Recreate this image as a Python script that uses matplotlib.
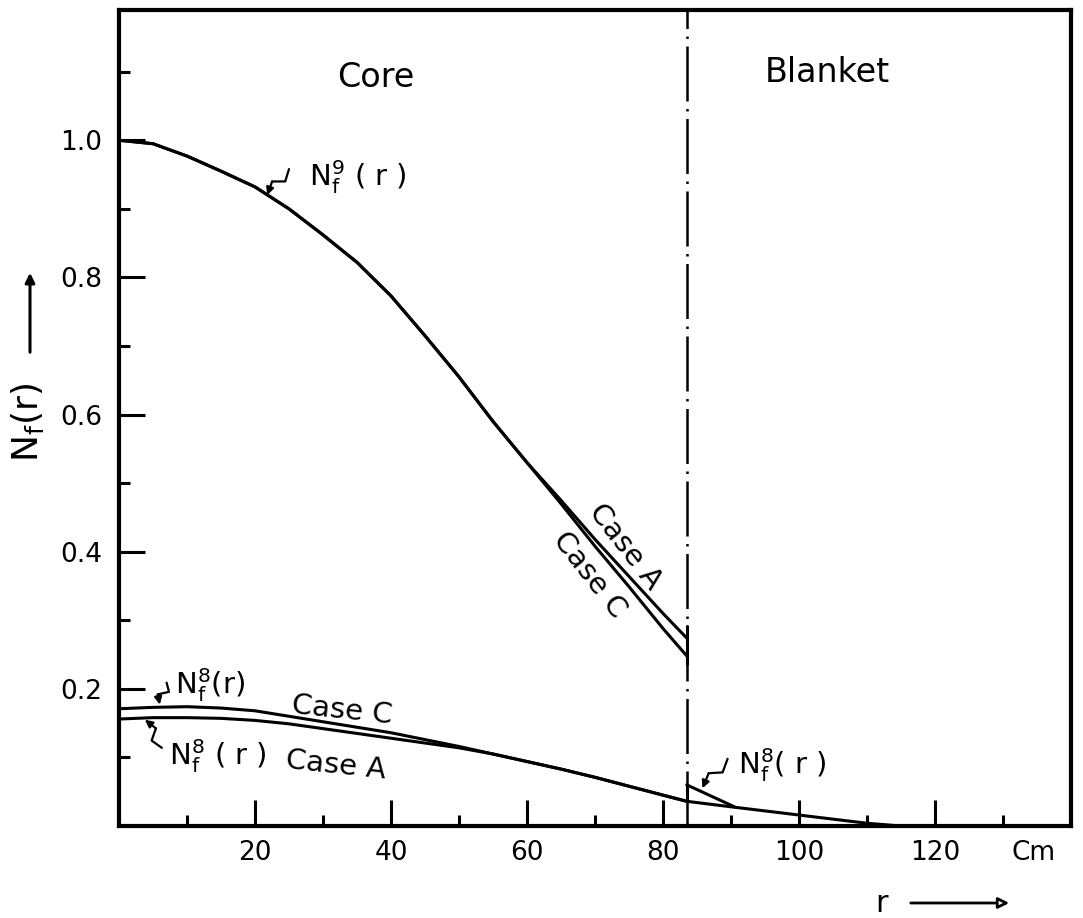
import numpy as np
import matplotlib
matplotlib.use('Agg')
import matplotlib.pyplot as plt

plt.rcParams['font.family'] = 'DejaVu Sans'
plt.rcParams['mathtext.fontset'] = 'dejavusans'
plt.rcParams['lines.solid_joinstyle'] = 'round'
plt.rcParams['lines.solid_capstyle'] = 'round'

# N_f^9(r) in the core, cases A and C
r_core = [0, 5, 10, 15, 20, 25, 30, 35, 40, 45, 50, 55, 60, 65, 70, 75, 80, 83.5]
n9_case_a = [1.0, 0.995, 0.977, 0.955, 0.932, 0.900, 0.862, 0.822, 0.773, 0.715,
             0.655, 0.590, 0.530, 0.475, 0.418, 0.364, 0.310, 0.274]
n9_case_c = [1.0, 0.995, 0.977, 0.955, 0.932, 0.900, 0.862, 0.822, 0.773, 0.715,
             0.655, 0.590, 0.530, 0.470, 0.408, 0.349, 0.288, 0.248]

# N_f^8(r) in the core
n8_case_c = [0.171, 0.173, 0.174, 0.172, 0.168, 0.160, 0.152, 0.144, 0.136, 0.126,
             0.116, 0.105, 0.094, 0.083, 0.071, 0.058, 0.045, 0.036]
n8_case_a = [0.156, 0.158, 0.158, 0.157, 0.154, 0.149, 0.142, 0.135, 0.128, 0.121,
             0.114, 0.105, 0.094, 0.083, 0.071, 0.058, 0.045, 0.036]

# N_f^8(r) in the blanket
r_blanket = [83.5, 90, 95, 100, 105, 110, 115]
n8_blanket = [0.036, 0.028, 0.022, 0.016, 0.010, 0.004, 0.0]
r_jump = [83.5, 90.5]
n8_jump = [0.060, 0.028]

r_boundary = 83.5

x_major = [20, 40, 60, 80, 100, 120]
x_minor = [10, 30, 50, 70, 90, 110, 130]
y_major = [0.2, 0.4, 0.6, 0.8, 1.0]
y_minor = [0.1, 0.3, 0.5, 0.7, 0.9, 1.1]

W, H = 1083, 918
fig = plt.figure(figsize=(W / 100, H / 100), dpi=100)
ax = fig.add_axes([119 / W, 92 / H, (1071 - 119) / W, (908 - 92) / H])
ax.set_xlim(0, 140)
ax.set_ylim(0, 1.19)

for s in ax.spines.values():
    s.set_linewidth(3)

ax.set_xticks(x_major)
ax.set_xticks(x_minor, minor=True)
ax.set_yticks(y_major)
ax.set_yticks(y_minor, minor=True)
ax.set_xticklabels([str(v) for v in x_major])
ax.set_yticklabels(['%.1f' % v for v in y_major])
ax.tick_params(which='both', direction='in', width=2.2, labelsize=19)
ax.tick_params(which='major', length=19)
ax.tick_params(which='minor', length=8)
ax.tick_params(axis='x', pad=10)
ax.tick_params(axis='y', pad=12)

lw = 2.2
ax.plot(r_core, n9_case_a, color='k', lw=lw)
ax.plot(r_core, n9_case_c, color='k', lw=lw)
ax.plot(r_core, n8_case_c, color='k', lw=lw)
ax.plot(r_core, n8_case_a, color='k', lw=lw)
ax.plot(r_blanket, n8_blanket, color='k', lw=lw)
ax.plot(r_jump, n8_jump, color='k', lw=lw)
ax.plot([r_boundary, r_boundary], [n8_jump[0], n8_blanket[0]], color='k', lw=lw)
ax.plot([r_boundary, r_boundary], [n9_case_c[-1] - 0.012, n9_case_a[-1] + 0.018], color='k', lw=lw)

# core / blanket boundary
ax.axvline(r_boundary, color='k', lw=1.8, dashes=(22, 3, 1, 3))


def lightning(start, end):
    tr = ax.transData
    p0 = np.array(tr.transform(start))
    p1 = np.array(tr.transform(end))
    d = p1 - p0
    n = np.array([-d[1], d[0]]) / np.hypot(d[0], d[1])
    a = p0 + 0.35 * d + 5 * n
    b = p0 + 0.6 * d - 5 * n
    pts = tr.inverted().transform(np.array([p0, a, b]))
    ax.plot(pts[:, 0], pts[:, 1], color='k', lw=1.6)
    ax.annotate('', xy=end, xytext=tuple(pts[2]),
                arrowprops=dict(arrowstyle='-|>', color='k', lw=1.6,
                                mutation_scale=11, shrinkA=0, shrinkB=0))


fs = 21
ax.text(27.9, 0.946, r'$\mathregular{N_f^9}$ ( r )', fontsize=fs, va='center')
lightning((25.0, 0.958), (21.8, 0.920))

ax.text(8.2, 0.205, r'$\mathregular{N_f^8}$(r)', fontsize=fs, va='center')
lightning((7.0, 0.209), (6.0, 0.177))

ax.text(7.4, 0.102, r'$\mathregular{N_f^8}$ ( r )', fontsize=fs, va='center')
lightning((6.3, 0.114), (3.8, 0.155))

ax.text(91.1, 0.089, r'$\mathregular{N_f^8}$( r )', fontsize=fs, va='center')
lightning((89.5, 0.098), (85.8, 0.055))

ax.text(25.4, 0.177, 'Case C', fontsize=fs, va='center', rotation=-6, rotation_mode='anchor')
ax.text(24.5, 0.096, 'Case A', fontsize=fs, va='center', rotation=-6, rotation_mode='anchor')
ax.text(74.4, 0.408, 'Case A', fontsize=fs, ha='center', va='center', rotation=-52)
ax.text(69.2, 0.366, 'Case C', fontsize=fs, ha='center', va='center', rotation=-52)

ax.text(37.7, 1.092, 'Core', fontsize=24, ha='center', va='center')
ax.text(104.2, 1.099, 'Blanket', fontsize=24, ha='center', va='center')

ax.text(134.5, -0.017, 'Cm', fontsize=19, ha='center', va='top',
        transform=ax.get_xaxis_transform())

# axis labels with arrows
fig.text(27 / W, 1 - 422 / H, r'$\mathregular{N_f}$(r)', fontsize=26,
         rotation=90, ha='center', va='center')
fig.add_artist(matplotlib.patches.FancyArrowPatch(
    (30 / W, 1 - 355 / H), (30 / W, 1 - 270 / H), transform=fig.transFigure,
    arrowstyle='-|>', mutation_scale=14, lw=2.2, color='k'))

fig.text(882 / W, 1 - 903 / H, 'r', fontsize=22, ha='center', va='center')
fig.add_artist(matplotlib.patches.FancyArrowPatch(
    (908 / W, 1 - 903 / H), (1012 / W, 1 - 903 / H), transform=fig.transFigure,
    arrowstyle='-|>', mutation_scale=16, lw=2, ec='k', fc='white'))

fig.savefig('out.png', dpi=100)
